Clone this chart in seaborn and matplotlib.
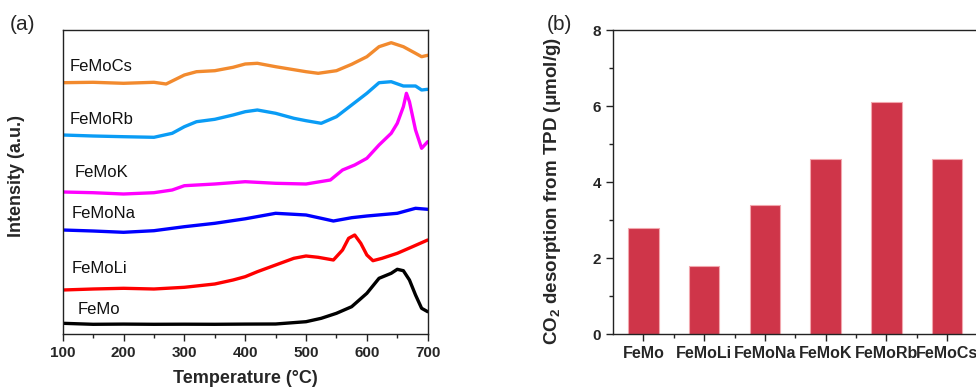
import matplotlib

matplotlib.use("Agg")
import matplotlib.pyplot as plt
import seaborn as sns
from matplotlib.ticker import MultipleLocator, FixedLocator

# (a) TPD profiles, intensity (arbitrary units)
femo_t = [100, 150, 200, 250, 300, 350, 400, 450, 500, 525, 550, 575, 600, 620, 640, 650, 660, 670, 680, 690, 700]
femo_i = [10.7, 9.7, 9.9, 9.7, 9.8, 9.7, 9.9, 10.0, 12.3, 15.7, 20.7, 27.3, 40.7, 55.7, 60.7, 64.7, 63.3, 54.0, 39.0, 25.7, 22.3]

femoli_t = [100, 150, 200, 250, 300, 350, 380, 400, 420, 450, 480, 500, 520, 545, 560, 570, 580, 590, 600, 610, 625, 650, 675, 700]
femoli_i = [44.0, 45.0, 45.7, 45.0, 46.7, 50.0, 54.0, 57.3, 62.3, 69.0, 75.7, 78.0, 76.7, 74.0, 84.0, 95.7, 99.0, 90.7, 79.0, 73.3, 75.7, 80.7, 87.3, 94.0]

femona_t = [100, 150, 200, 250, 300, 350, 400, 450, 480, 500, 525, 545, 575, 600, 650, 680, 700]
femona_i = [104.0, 103.0, 101.7, 103.3, 107.3, 110.7, 115.2, 120.7, 119.7, 119.0, 115.7, 113.0, 116.3, 118.0, 120.7, 125.7, 124.7]

femok_t = [100, 150, 200, 250, 280, 300, 350, 400, 450, 500, 540, 560, 580, 600, 620, 640, 650, 660, 665, 670, 680, 690, 700]
femok_i = [142.0, 141.3, 140.0, 141.3, 144.0, 148.3, 150.0, 152.3, 150.7, 150.0, 154.0, 164.0, 169.0, 175.7, 189.0, 200.7, 210.7, 227.3, 240.7, 232.3, 204.0, 185.7, 192.3]

femorb_t = [100, 150, 200, 250, 280, 300, 320, 350, 380, 400, 420, 450, 480, 500, 525, 550, 575, 600, 620, 640, 660, 680, 690, 700]
femorb_i = [199.0, 198.0, 197.3, 196.7, 200.7, 207.3, 212.3, 214.7, 219.0, 222.3, 224.0, 220.7, 215.7, 213.3, 210.7, 217.3, 229.0, 240.7, 251.3, 252.3, 248.0, 248.0, 244.0, 244.7]

femocs_t = [100, 150, 200, 250, 270, 300, 320, 350, 380, 400, 420, 450, 500, 520, 550, 575, 600, 620, 640, 660, 680, 690, 700]
femocs_i = [251.3, 251.7, 250.7, 251.7, 250.0, 259.0, 262.3, 263.3, 266.7, 270.0, 270.7, 267.3, 262.3, 260.7, 263.3, 269.7, 277.3, 287.3, 291.3, 287.3, 280.7, 277.3, 278.7]

# (b) CO2 desorption amounts
catalysts = ["FeMo", "FeMoLi", "FeMoNa", "FeMoK", "FeMoRb", "FeMoCs"]
co2_desorbed = [2.8, 1.8, 3.4, 4.6, 6.1, 4.6]

sns.set_style("ticks")
plt.rcParams["font.family"] = ["Liberation Sans", "DejaVu Sans"]
plt.rcParams["mathtext.fontset"] = "custom"
plt.rcParams["mathtext.rm"] = "Liberation Sans"
plt.rcParams["mathtext.bf"] = "Liberation Sans:bold"
plt.rcParams["mathtext.default"] = "bf"

fig = plt.figure(figsize=(9.76, 3.87), dpi=100)
ax_a = fig.add_axes([62.7 / 976, 1 - 334 / 387, 365 / 976, 304 / 387])
ax_b = fig.add_axes([613 / 976, 1 - 334 / 387, 364.5 / 976, 304 / 387])

curves = [
    (femo_t, femo_i, "#000000", "FeMo", 125, 24),
    (femoli_t, femoli_i, "#ff0000", "FeMoLi", 115, 65.7),
    (femona_t, femona_i, "#0000ff", "FeMoNa", 115, 120.7),
    (femok_t, femok_i, "#ff00ff", "FeMoK", 120, 161.3),
    (femorb_t, femorb_i, "#0a9cf5", "FeMoRb", 112, 215),
    (femocs_t, femocs_i, "#f28a2e", "FeMoCs", 112, 267.3),
]
for t, inten, color, name, lx, ly in curves:
    sns.lineplot(x=t, y=inten, color=color, lw=2.4, ax=ax_a)
    ax_a.text(lx, ly, name, fontsize=12, va="center", ha="left", color="#111111")

ax_a.set_xlim(100, 700)
ax_a.set_ylim(0, 304)
ax_a.set_yticks([])
ax_a.xaxis.set_major_locator(MultipleLocator(100))
ax_a.xaxis.set_minor_locator(MultipleLocator(50))
ax_a.set_xlabel("Temperature (°C)", fontsize=13, fontweight="bold", labelpad=7)
ax_a.set_ylabel("Intensity (a.u.)", fontsize=13, fontweight="bold")
ax_a.yaxis.set_label_coords(-0.103, 0.521)

sns.barplot(x=catalysts, y=co2_desorbed, color="#cf3549", width=0.5,
            edgecolor="#f2a7ae", linewidth=0.8, saturation=1, ax=ax_b)
ax_b.set_xlim(-0.5, 5.5)
ax_b.set_ylim(0, 8)
ax_b.yaxis.set_major_locator(MultipleLocator(2))
ax_b.yaxis.set_minor_locator(MultipleLocator(1))
ax_b.xaxis.set_minor_locator(FixedLocator([0.5, 1.5, 2.5, 3.5, 4.5]))
ax_b.set_ylabel(r"CO$_2$ desorption from TPD (μmol/g)", fontsize=13.5,
                fontweight="bold")
ax_b.yaxis.set_label_coords(-0.137, 0.469)
ax_b.set_xlabel("")

for ax in (ax_a, ax_b):
    for side in ("left", "right", "top", "bottom"):
        ax.spines[side].set_visible(True)
        ax.spines[side].set_color("#222222")
        ax.spines[side].set_linewidth(1.0)
    ax.tick_params(axis="both", which="major", direction="out", length=5, width=1,
                   labelsize=11, color="#222222")
    ax.tick_params(axis="both", which="minor", direction="out", length=3, width=1,
                   color="#222222")
    for lbl in ax.get_xticklabels() + ax.get_yticklabels():
        lbl.set_fontweight("bold")

ax_a.tick_params(axis="y", which="both", left=False)
ax_b.tick_params(axis="x", labelsize=11.5)

fig.text(10 / 976, 1 - 25 / 387, "(a)", fontsize=15, va="center", ha="left")
fig.text(547 / 976, 1 - 25 / 387, "(b)", fontsize=15, va="center", ha="left")

fig.savefig("out.png", dpi=100)
